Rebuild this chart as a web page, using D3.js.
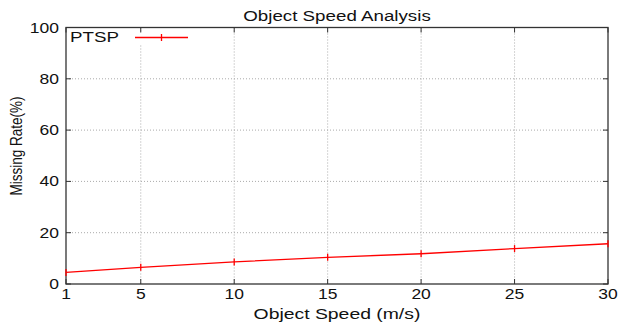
<!DOCTYPE html>
<html>
<head>
<meta charset="utf-8">
<script src="https://cdn.jsdelivr.net/npm/d3@7"></script>
<style>
  body { margin: 0; background: #fff; }
  text { font-family: "Liberation Sans", Helvetica, Arial, sans-serif; fill: #111; }
</style>
</head>
<body>
<div id="chart"></div>
<script>
// data
const speeds = [1, 5, 10, 15, 20, 25, 30];
const missingRate = [4.5, 6.5, 8.6, 10.4, 11.8, 13.8, 15.7];
const xTicks = [1, 5, 10, 15, 20, 25, 30];
const yTicks = [0, 20, 40, 60, 80, 100];
const seriesName = "PTSP";

const W = 618, H = 327;
const margin = {top: 27.5, right: 10, bottom: 43, left: 66};
const width = W - margin.left - margin.right;
const height = H - margin.top - margin.bottom;
const sx = 1.25; // text in the picture is stretched sideways

const svg = d3.select("#chart").append("svg")
  .attr("width", W)
  .attr("height", H);

const g = svg.append("g")
  .attr("transform", "translate(" + margin.left + "," + margin.top + ")");

const x = d3.scaleLinear().domain([1, 30]).range([0, width]);
const y = d3.scaleLinear().domain([0, 100]).range([height, 0]);

// grid
g.append("g").selectAll("line")
  .data(xTicks.slice(1, -1))
  .join("line")
  .attr("x1", d => x(d)).attr("x2", d => x(d))
  .attr("y1", 0).attr("y2", height)
  .attr("stroke", "#aaa").attr("stroke-width", 1)
  .attr("stroke-dasharray", "1,2");

g.append("g").selectAll("line")
  .data(yTicks.slice(1, -1))
  .join("line")
  .attr("x1", 0).attr("x2", width)
  .attr("y1", d => y(d)).attr("y2", d => y(d))
  .attr("stroke", "#aaa").attr("stroke-width", 1)
  .attr("stroke-dasharray", "1,2");

// legend background hides grid under it
g.append("rect")
  .attr("x", 2).attr("y", 4)
  .attr("width", 122).attr("height", 13)
  .attr("fill", "#fff");

// inward ticks on all four sides
const tickLen = 5;
const tk = g.append("g").attr("stroke", "#333").attr("stroke-width", 1);
xTicks.forEach(d => {
  tk.append("line").attr("x1", x(d)).attr("x2", x(d)).attr("y1", height).attr("y2", height - tickLen);
  tk.append("line").attr("x1", x(d)).attr("x2", x(d)).attr("y1", 0).attr("y2", tickLen);
});
yTicks.forEach(d => {
  tk.append("line").attr("x1", 0).attr("x2", tickLen).attr("y1", y(d)).attr("y2", y(d));
  tk.append("line").attr("x1", width).attr("x2", width - tickLen).attr("y1", y(d)).attr("y2", y(d));
});

// frame
g.append("rect")
  .attr("width", width).attr("height", height)
  .attr("fill", "none").attr("stroke", "#333").attr("stroke-width", 1.3);

// tick labels
g.append("g").selectAll("text")
  .data(xTicks)
  .join("text")
  .attr("transform", d => "translate(" + x(d) + "," + (height + 15) + ") scale(" + sx + ",1)")
  .attr("text-anchor", "middle")
  .style("font-size", "14px")
  .text(d => d);

g.append("g").selectAll("text")
  .data(yTicks)
  .join("text")
  .attr("transform", d => "translate(-7," + (y(d) + 5) + ") scale(" + sx + ",1)")
  .attr("text-anchor", "end")
  .style("font-size", "14px")
  .text(d => d);

// series
const line = d3.line().x((d, i) => x(speeds[i])).y(d => y(d));
g.append("path")
  .datum(missingRate)
  .attr("d", line)
  .attr("fill", "none")
  .attr("stroke", "#f00")
  .attr("stroke-width", 1.3);

g.append("g").selectAll("line")
  .data(missingRate)
  .join("line")
  .attr("x1", (d, i) => x(speeds[i])).attr("x2", (d, i) => x(speeds[i]))
  .attr("y1", d => y(d) - 3.5).attr("y2", d => y(d) + 3.5)
  .attr("stroke", "#f00").attr("stroke-width", 1.3);

// legend
const lg = g.append("g").attr("transform", "translate(0,10)");
lg.append("text")
  .attr("transform", "translate(4,4.5) scale(" + sx + ",1)")
  .style("font-size", "15px")
  .text(seriesName);
lg.append("line")
  .attr("x1", 69).attr("x2", 122).attr("y1", 0).attr("y2", 0)
  .attr("stroke", "#f00").attr("stroke-width", 1.3);
lg.append("line")
  .attr("x1", 95.5).attr("x2", 95.5).attr("y1", -3.5).attr("y2", 3.5)
  .attr("stroke", "#f00").attr("stroke-width", 1.3);

// titles
svg.append("text")
  .attr("transform", "translate(" + (margin.left + width / 2) + ",20.5) scale(" + sx + ",1)")
  .attr("text-anchor", "middle")
  .style("font-size", "15px")
  .text("Object Speed Analysis");

svg.append("text")
  .attr("transform", "translate(" + (margin.left + width / 2) + ",319) scale(" + sx + ",1)")
  .attr("text-anchor", "middle")
  .style("font-size", "15.5px")
  .text("Object Speed (m/s)");

svg.append("text")
  .attr("transform", "translate(22,146) scale(" + sx + ",1) rotate(-90)")
  .attr("text-anchor", "middle")
  .style("font-size", "13.5px")
  .text("Missing Rate(%)");
</script>
</body>
</html>
